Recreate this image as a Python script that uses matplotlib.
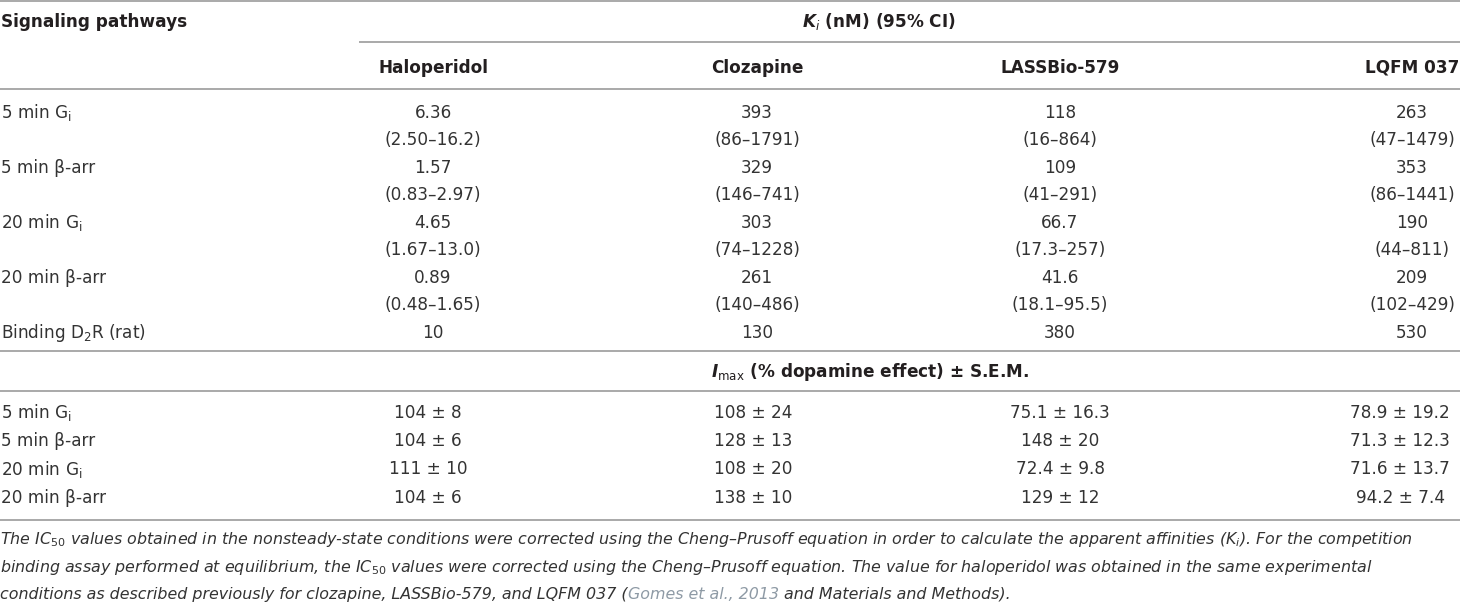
import matplotlib
matplotlib.use('Agg')
import matplotlib.pyplot as plt

plt.rcParams['font.family'] = ['DejaVu Sans']
plt.rcParams['mathtext.fontset'] = 'custom'
plt.rcParams['mathtext.rm'] = 'DejaVu Sans'
plt.rcParams['mathtext.it'] = 'DejaVu Sans:italic'
plt.rcParams['mathtext.bf'] = 'DejaVu Sans:bold:italic'

# ---------------- data ----------------
stub_header = 'Signaling pathways'
ki_header = r'$\mathbf{K}_{\mathit{i}}$ (nM) (95% CI)'
imax_header = r'$\mathbf{I}_{\mathrm{max}}$ (% dopamine effect) ± S.E.M.'
drugs = ['Haloperidol', 'Clozapine', 'LASSBio-579', 'LQFM 037']
pathways = [r'5 min G$_\mathrm{i}$', '5 min β-arr', r'20 min G$_\mathrm{i}$', '20 min β-arr']

ki_5min_gi = ['6.36', '393', '118', '263']
ci_5min_gi = ['2.50–16.2', '86–1791', '16–864', '47–1479']
ki_5min_barr = ['1.57', '329', '109', '353']
ci_5min_barr = ['0.83–2.97', '146–741', '41–291', '86–1441']
ki_20min_gi = ['4.65', '303', '66.7', '190']
ci_20min_gi = ['1.67–13.0', '74–1228', '17.3–257', '44–811']
ki_20min_barr = ['0.89', '261', '41.6', '209']
ci_20min_barr = ['0.48–1.65', '140–486', '18.1–95.5', '102–429']

binding_label = r'Binding D$_\mathrm{2}$R (rat)'
binding_ki = ['10', '130', '380', '530']

imax_mean_5min_gi = ['104', '108', '75.1', '78.9']
imax_sem_5min_gi = ['8', '24', '16.3', '19.2']
imax_mean_5min_barr = ['104', '128', '148', '71.3']
imax_sem_5min_barr = ['6', '13', '20', '12.3']
imax_mean_20min_gi = ['111', '108', '72.4', '71.6']
imax_sem_20min_gi = ['10', '20', '9.8', '13.7']
imax_mean_20min_barr = ['104', '138', '129', '94.2']
imax_sem_20min_barr = ['6', '10', '12', '7.4']

footnote_1 = (r'The IC$_{\mathit{50}}$ values obtained in the nonsteady-state conditions were corrected '
              r'using the Cheng–Prusoff equation in order to calculate the apparent affinities '
              r'(K$_{\mathit{i}}$). For the competition')
footnote_2 = (r'binding assay performed at equilibrium, the IC$_{\mathit{50}}$ values were corrected using '
              r'the Cheng–Prusoff equation. The value for haloperidol was obtained in the same experimental')
footnote_3a = 'conditions as described previously for clozapine, LASSBio-579, and LQFM 037 ('
footnote_3b = 'Gomes et al., 2013'
footnote_3c = ' and Materials and Methods).'

ki_values = [ki_5min_gi, ki_5min_barr, ki_20min_gi, ki_20min_barr]
ci_values = [ci_5min_gi, ci_5min_barr, ci_20min_gi, ci_20min_barr]
imax_means = [imax_mean_5min_gi, imax_mean_5min_barr, imax_mean_20min_gi, imax_mean_20min_barr]
imax_sems = [imax_sem_5min_gi, imax_sem_5min_barr, imax_sem_20min_gi, imax_sem_20min_barr]

# ---------------- layout ----------------
W, H = 1460, 602
fig = plt.figure(figsize=(W / 100, H / 100), dpi=100)
ax = fig.add_axes([0, 0, 1, 1])
ax.set_xlim(0, W)
ax.set_ylim(H, 0)
ax.axis('off')

HEAD = '#231f20'
TXT = '#333333'
LINE = '#a3a3a3'
LINK = '#8e9aa5'
FS = 12.2
FS_NOTE = 11.4
CAP = 6.2        # half cap height in px, to convert visual centre -> baseline

col_x = [433, 757, 1060, 1412]
col_x_imax = [428, 753, 1060, 1400]
stub_x = 1


def hline(y, x0=0, x1=W):
    ax.plot([x0, x1], [y, y], color=LINE, lw=1.3, solid_capstyle='butt')


def put(x, yc, s, ha='center', bold=False, size=FS, color=None, style='normal'):
    if color is None:
        color = HEAD if bold else TXT
    return ax.text(x, yc + CAP * size / FS, s, ha=ha, va='baseline', fontsize=size,
                   fontweight='bold' if bold else 'normal', color=color, fontstyle=style)


# rules
hline(0.8)
hline(41.7, 359, W)
hline(89.3)
hline(350.7)
hline(390.7)
hline(520)

# headers
put(stub_x, 20.7, stub_header, ha='left', bold=True)
put(879, 20.7, ki_header, bold=True)
for x, d in zip(col_x, drugs):
    put(x, 66.7, d, bold=True)

# Ki block
ki_top = 111.7
ki_step = 27.5
for i, (lab, kis, cis) in enumerate(zip(pathways, ki_values, ci_values)):
    y1 = ki_top + 2 * i * ki_step
    y2 = y1 + ki_step
    put(stub_x, y1, lab, ha='left')
    for x, k, c in zip(col_x, kis, cis):
        put(x, y1, k)
        put(x, y2, '(' + c + ')')
yb = ki_top + 8 * ki_step
put(stub_x, yb, binding_label, ha='left')
for x, b in zip(col_x, binding_ki):
    put(x, yb, b)

# Imax block
put(870, 371, imax_header, bold=True)
imax_top = 411.7
imax_step = 28.3
for i, (lab, ms, ss) in enumerate(zip(pathways, imax_means, imax_sems)):
    y = imax_top + i * imax_step
    put(stub_x, y, lab, ha='left')
    for x, m, s in zip(col_x_imax, ms, ss):
        put(x, y, f'{m} ± {s}')

# footnote
put(0, 538, footnote_1, ha='left', size=FS_NOTE, style='italic')
put(0, 566, footnote_2, ha='left', size=FS_NOTE, style='italic')

fig.canvas.draw()
renderer = fig.canvas.get_renderer()
inv = ax.transData.inverted()
x = 0
for seg, col in [(footnote_3a, TXT), (footnote_3b, LINK), (footnote_3c, TXT)]:
    t = put(x, 593, seg, ha='left', size=FS_NOTE, style='italic', color=col)
    bb = t.get_window_extent(renderer)
    x = inv.transform((bb.x1, bb.y0))[0]

fig.savefig('out.png', dpi=100)
